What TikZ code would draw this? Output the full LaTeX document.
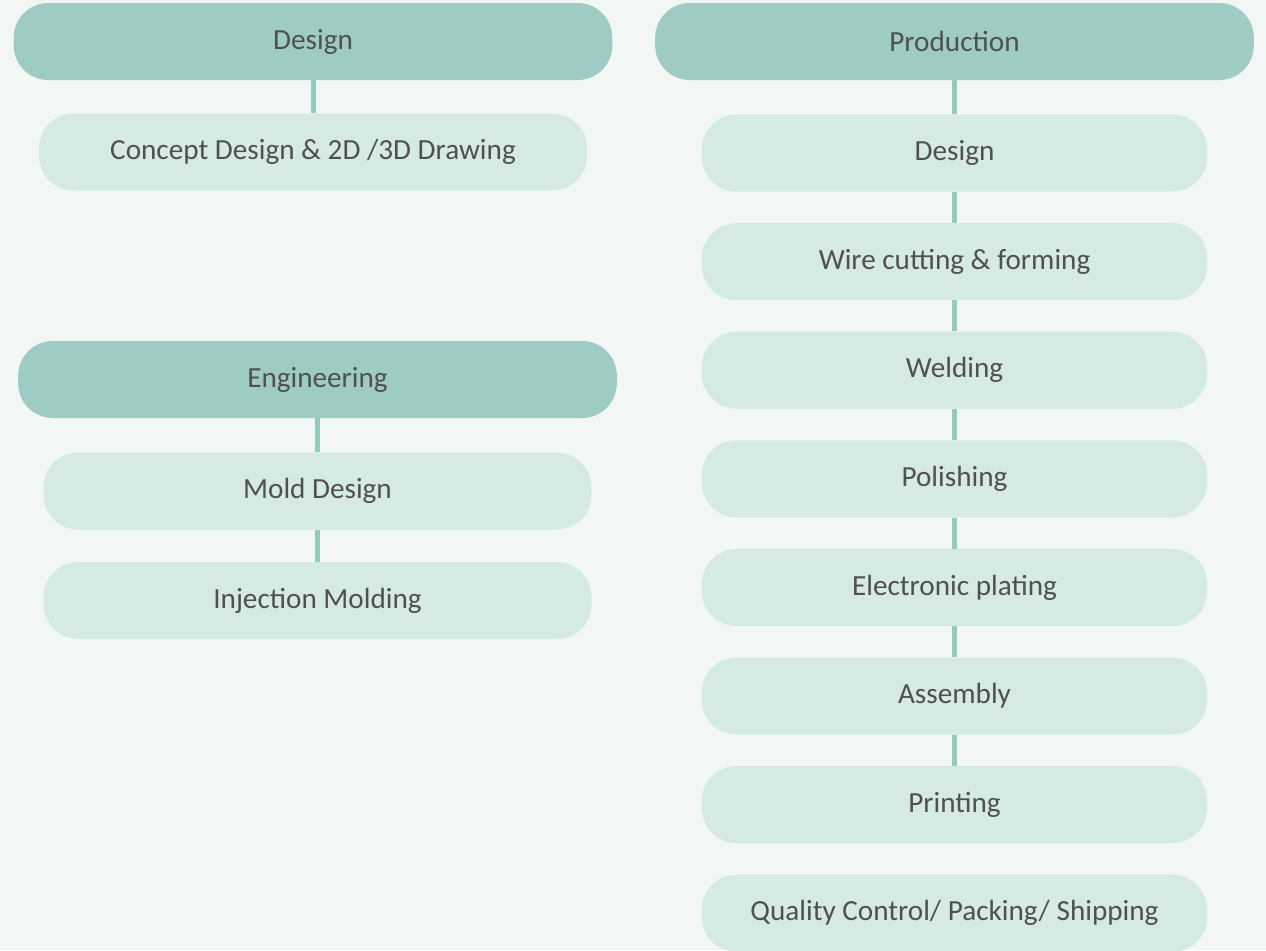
\documentclass[tikz,border=0pt]{standalone}
\usepackage{fontspec}
\setmainfont{Carlito}
\usepackage{tikz}
\usetikzlibrary{positioning}
\definecolor{pagebg}{HTML}{F2F7F5}
\definecolor{headfill}{HTML}{9ECBC4}
\definecolor{stepfill}{HTML}{D5EAE5}
\definecolor{linkcol}{HTML}{93CBBF}
\definecolor{txtcol}{HTML}{505050}
\tikzset{node distance=23.3pt, % gap between stacked boxes
every node/.style={ % common look of all boxes
text=txtcol,
font=\fontsize{21.9}{26}\selectfont},
headbox/.style={ % stage heading
fill=headfill,
rounded corners=26pt,
minimum width=449pt,
minimum height=57.75pt},
stepbox/.style={ % single process step
fill=stepfill,
rounded corners=26pt,
minimum width=411pt,
minimum height=57.75pt},
prodstep/.style={ % narrower steps of production column
stepbox,
minimum width=379pt},
link/.style={ % connector between boxes
draw=linkcol,
line width=3.75pt}}

\begin{document}
\begin{tikzpicture}[x=0.75pt, y=-0.75pt]

    \fill[pagebg] (0,0) rectangle (1266,950);
    \useasboundingbox (0,0) rectangle (1266,950);
    
    % left column
    \node[headbox] (design) at (313,41.5) {Design};
    \node[stepbox, below=24.75pt of design] (concept) {Concept Design \& 2D /3D Drawing};
    
    \node[headbox] (engineering) at (317.5,379.5) {Engineering};
    \node[stepbox, below=25.5pt of engineering] (mold) {Mold Design};
    \node[stepbox, below=24pt of mold] (injection) {Injection Molding};
    
    % right column
    \node[headbox] (production) at (954.5,41.5) {Production};
    \node[prodstep, below=25.5pt of production] (pdesign) {Design};
    \node[prodstep, below=of pdesign] (wire) {Wire cutting \& forming};
    \node[prodstep, below=of wire] (welding) {Welding};
    \node[prodstep, below=of welding] (polishing) {Polishing};
    \node[prodstep, below=of polishing] (plating) {Electronic plating};
    \node[prodstep, below=of plating] (assembly) {Assembly};
    \node[prodstep, below=of assembly] (printing) {Printing};
    \node[prodstep, below=of printing] (quality) {Quality Control/ Packing/ Shipping};
    
    \draw[link] (design) -- (concept);
    \draw[link] (engineering) -- (mold);
    \draw[link] (mold) -- (injection);
    
    \draw[link] (production) -- (pdesign);
    \draw[link] (pdesign) -- (wire);
    \draw[link] (wire) -- (welding);
    \draw[link] (welding) -- (polishing);
    \draw[link] (polishing) -- (plating);
    \draw[link] (plating) -- (assembly);
    \draw[link] (assembly) -- (printing);
    
\end{tikzpicture}
\end{document}
